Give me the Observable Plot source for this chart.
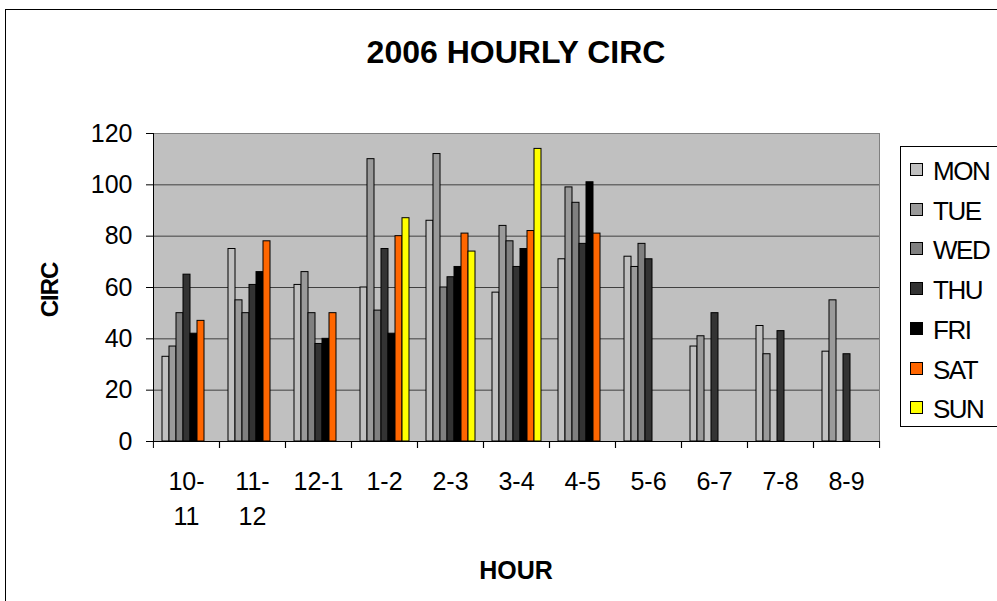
<!DOCTYPE html>
<html>
<head>
<meta charset="utf-8">
<script src="https://cdn.jsdelivr.net/npm/d3@7"></script>
<script src="https://cdn.jsdelivr.net/npm/@observablehq/plot@0.6"></script>
<style>
  html, body { margin: 0; padding: 0; background: #fff; }
  body { width: 997px; height: 601px; overflow: hidden; position: relative; font-family: "Liberation Sans", Arial, sans-serif; }
  #border { position: absolute; left: 5px; top: 9px; width: 1100px; height: 700px; border: 1px solid #000; box-sizing: border-box; }
  #chart { position: absolute; left: 0; top: 0; }
  #title { position: absolute; left: 316px; width: 400px; top: 36px; text-align: center; font-weight: bold; font-size: 32px; line-height: 32px; letter-spacing: 0px; }
  #xlabel { position: absolute; left: 416px; width: 200px; top: 558px; text-align: center; font-weight: bold; font-size: 25px; line-height: 24px; letter-spacing: 0px; }
  #ylabel { position: absolute; left: 0px; top: 278px; width: 100px; text-align: center; font-weight: bold; font-size: 24px; line-height: 24px; letter-spacing: -1px; transform-origin: 50px 12px; transform: rotate(-90deg); }
  #legend { position: absolute; left: 900px; top: 146px; width: 130px; height: 281px; border: 1px solid #000; box-sizing: border-box; background: #fff; }
  .item { position: absolute; left: 9px; height: 28px; display: flex; align-items: center; font-size: 26px; line-height: 28px; letter-spacing: -1.5px; white-space: nowrap; }
  .sw { width: 11px; height: 11px; border: 1px solid #000; margin-right: 10px; margin-top: -3px; }
</style>
</head>
<body>
<div id="border"></div>
<div id="chart"></div>
<div id="title">2006 HOURLY CIRC</div>
<div id="ylabel">CIRC</div>
<div id="xlabel">HOUR</div>
<div id="legend"></div>
<script>
const hours = ["10-11","11-12","12-1","1-2","2-3","3-4","4-5","5-6","6-7","7-8","8-9"];
const hourLabels = ["10-\n11","11-\n12","12-1","1-2","2-3","3-4","4-5","5-6","6-7","7-8","8-9"];
const days = ["MON","TUE","WED","THU","FRI","SAT","SUN"];
const dayColors = ["#c0c0c0","#9a9a9a","#808080","#333333","#000000","#ff6600","#ffff00"];
const mon = [33, 75, 61, 60, 86, 58, 71, 72, 37, 45, 35];
const tue = [37, 55, 66, 110, 112, 84, 99, 68, 41, 34, 55];
const wed = [50, 50, 50, 51, 60, 78, 93, 77, null, null, null];
const thu = [65, 61, 38, 75, 64, 68, 77, 71, 50, 43, 34];
const fri = [42, 66, 40, 42, 68, 75, 101, null, null, null, null];
const sat = [47, 78, 50, 80, 81, 82, 81, null, null, null, null];
const sun = [null, null, null, 87, 74, 114, null, null, null, null, null];
const yTicks = [0, 20, 40, 60, 80, 100, 120];

const series = [mon, tue, wed, thu, fri, sat, sun];
const rows = [];
series.forEach((vals, di) => vals.forEach((v, hi) => {
  if (v != null) rows.push({hour: hours[hi], day: days[di], value: v});
}));

const W = 997, H = 601, mL = 152, mR = 117, mT = 133, mB = 160;
const step = (W - mL - mR) / hours.length;
const labelOf = new Map(hours.map((h, i) => [h, hourLabels[i]]));

const chart = Plot.plot({
  width: W, height: H,
  marginLeft: mL, marginRight: mR, marginTop: mT, marginBottom: mB,
  style: {fontFamily: '"Liberation Sans", Arial, sans-serif', fontSize: "25px", color: "#000", background: "transparent", overflow: "visible"},
  fx: {domain: hours, padding: 0},
  x: {domain: days, paddingInner: 0, paddingOuter: 0.75, axis: null},
  y: {domain: [0, 120]},
  color: {domain: days, range: dayColors},
  marks: [
    Plot.frame({fill: "#c0c0c0", stroke: "#808080", facet: "super"}),
    Plot.ruleY(yTicks.filter(t => t > 0 && t < 120), {stroke: "#404040", strokeWidth: 1}),
    Plot.barY(rows, {fx: "hour", x: "day", y: "value", fill: "day", stroke: "#000", strokeWidth: 1, inset: 0}),
    Plot.ruleY([0], {stroke: "#000", strokeWidth: 1}),
    Plot.frame({anchor: "left", stroke: "#000", facet: "super"}),
    Plot.axisY({ticks: yTicks, tickSize: 7, tickPadding: 14, fontSize: 25, label: null, stroke: "#000", strokeOpacity: 1}),
    Plot.axisFx({anchor: "bottom", tickSize: 7, text: null, dx: -step / 2, stroke: "#000", strokeOpacity: 1, label: null}),
    Plot.axisFx({anchor: "bottom", tickSize: 7, text: null, dx: step / 2, stroke: "#000", strokeOpacity: 1, label: null}),
    Plot.axisFx({anchor: "bottom", tickSize: 0, tickPadding: 24, fontSize: 25, lineHeight: 1.4, tickFormat: d => labelOf.get(d), label: null})
  ]
});
document.getElementById("chart").appendChild(chart);

const legend = document.getElementById("legend");
days.forEach((d, i) => {
  const it = document.createElement("div");
  it.className = "item";
  it.style.top = (10 + i * 39.7) + "px";
  const sw = document.createElement("div");
  sw.className = "sw";
  sw.style.background = dayColors[i];
  const tx = document.createElement("span");
  tx.textContent = d;
  it.appendChild(sw);
  it.appendChild(tx);
  legend.appendChild(it);
});
</script>
</body>
</html>
